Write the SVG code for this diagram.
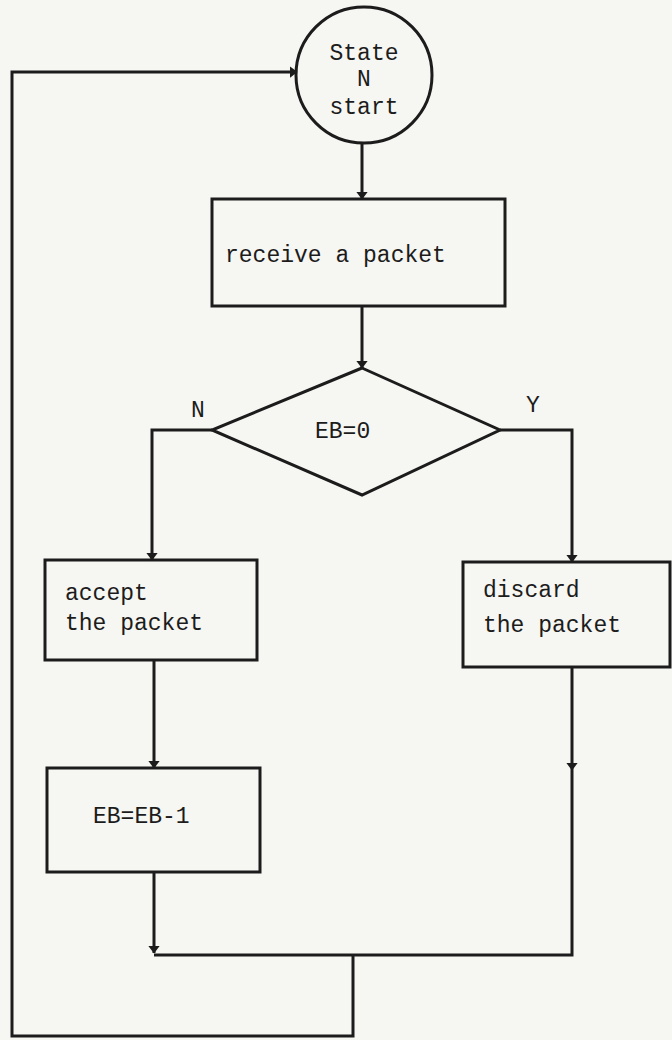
<svg xmlns="http://www.w3.org/2000/svg" width="672" height="1040" viewBox="0 0 672 1040">
<style>
.bg{fill:#f6f6f2}
.shape{fill:none;stroke:#1c1c1c;stroke-width:3}
.wire{fill:none;stroke:#1c1c1c;stroke-width:3;stroke-linejoin:miter}
.t{font-family:"Liberation Mono","Courier New",monospace;font-size:23px;fill:#1c1c1c}
.c{text-anchor:middle}
</style>
<defs>
<marker id="ah" markerWidth="8" markerHeight="16" refX="7.5" refY="4" orient="auto" markerUnits="userSpaceOnUse" viewBox="0 0 8 8" preserveAspectRatio="none">
<path d="M0,1 L8,4 L0,7 Z" fill="#1c1c1c"/>
</marker>
</defs>
<rect class="bg" x="0" y="0" width="672" height="1040"/>
<g id="node-start">
<circle class="shape" cx="364" cy="75" r="68"/>
<text class="t c" x="364" y="60">State</text>
<text class="t c" x="364" y="86">N</text>
<text class="t c" x="364" y="114">start</text>
</g>
<g id="node-receive">
<rect class="shape" x="212" y="199" width="293" height="107"/>
<text class="t" x="225" y="262">receive a packet</text>
</g>
<g id="node-decision">
<polygon class="shape" points="362,368 500,430 362,495 212,430"/>
<text class="t" x="315" y="438">EB=0</text>
</g>
<g id="node-accept">
<rect class="shape" x="45" y="560" width="212" height="100"/>
<text class="t" x="65" y="600">accept</text>
<text class="t" x="65" y="630">the packet</text>
</g>
<g id="node-discard">
<rect class="shape" x="463" y="562" width="207" height="105"/>
<text class="t" x="483" y="597">discard</text>
<text class="t" x="483" y="632">the packet</text>
</g>
<g id="node-decrement">
<rect class="shape" x="47" y="768" width="213" height="104"/>
<text class="t" x="93" y="823">EB=EB-1</text>
</g>
<g id="connectors">
<line class="wire" x1="362" y1="143" x2="362" y2="199" marker-end="url(#ah)"/>
<line class="wire" x1="362" y1="306" x2="362" y2="368" marker-end="url(#ah)"/>
<polyline class="wire" points="212,430 152,430 152,560" marker-end="url(#ah)"/>
<polyline class="wire" points="500,430 572,430 572,562" marker-end="url(#ah)"/>
<line class="wire" x1="154" y1="660" x2="154" y2="768" marker-end="url(#ah)"/>
<line class="wire" x1="154" y1="872" x2="154" y2="953" marker-end="url(#ah)"/>
<line class="wire" x1="572" y1="667" x2="572" y2="770" marker-end="url(#ah)"/>
<polyline class="wire" points="572,770 572,955 154,955"/>
<polyline class="wire" points="353,955 353,1036 12,1036 12,72 297,72" marker-end="url(#ah)"/>
<text class="t c" x="198" y="417">N</text>
<text class="t c" x="533" y="412">Y</text>
</g>
</svg>
